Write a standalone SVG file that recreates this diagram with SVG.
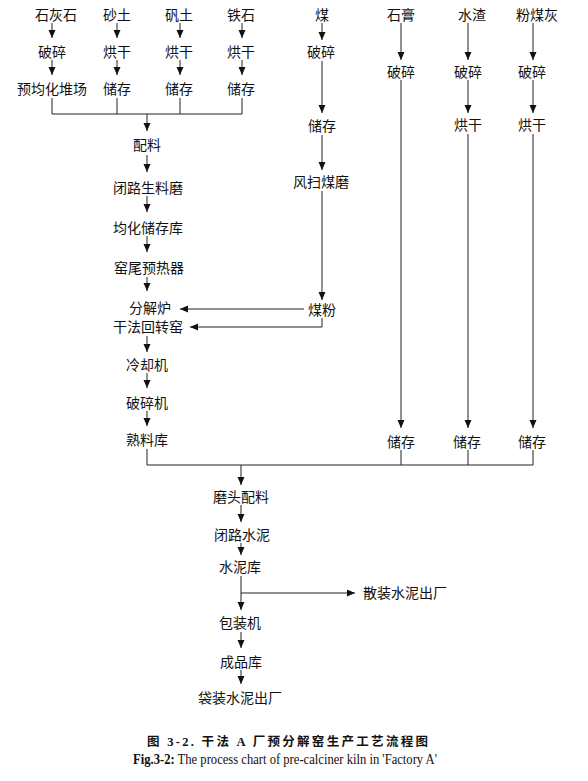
<svg xmlns="http://www.w3.org/2000/svg" width="588" height="781" viewBox="0 0 588 781">
<style>
.t{font-family:"Noto Sans CJK SC","Noto Sans",sans-serif;font-size:14px;fill:#111;text-anchor:middle}
.c line,.c path{stroke:#222;stroke-width:1;fill:none}
.cap{font-family:"Liberation Serif","Noto Sans CJK SC",serif;fill:#111}
</style>
<defs>
<marker id="a" markerUnits="userSpaceOnUse" markerWidth="8" markerHeight="8" refX="8" refY="3.5" orient="auto"><path d="M0,0 L8,3.5 L0,7 z" fill="#111"/></marker>
</defs>
<rect width="588" height="781" fill="#fff"/>
<g class="c" id="connectors">
<line x1="52" y1="23" x2="52" y2="38" marker-end="url(#a)"/>
<line x1="52" y1="60" x2="52" y2="75" marker-end="url(#a)"/>
<line x1="117" y1="23" x2="117" y2="38" marker-end="url(#a)"/>
<line x1="117" y1="60" x2="117" y2="75" marker-end="url(#a)"/>
<line x1="180" y1="23" x2="180" y2="38" marker-end="url(#a)"/>
<line x1="180" y1="60" x2="180" y2="75" marker-end="url(#a)"/>
<line x1="242" y1="23" x2="242" y2="38" marker-end="url(#a)"/>
<line x1="242" y1="60" x2="242" y2="75" marker-end="url(#a)"/>
<path d="M52,98 V114 H242 V98 M117,98 V114 M180,98 V114"/>
<line x1="147" y1="114" x2="147" y2="131" marker-end="url(#a)"/>
<line x1="147" y1="155" x2="147" y2="172" marker-end="url(#a)"/>
<line x1="147" y1="196" x2="147" y2="212" marker-end="url(#a)"/>
<line x1="147" y1="236" x2="147" y2="252" marker-end="url(#a)"/>
<line x1="147" y1="277" x2="147" y2="291" marker-end="url(#a)"/>
<line x1="147" y1="336" x2="147" y2="352" marker-end="url(#a)"/>
<line x1="147" y1="373" x2="147" y2="388" marker-end="url(#a)"/>
<line x1="147" y1="411" x2="147" y2="426" marker-end="url(#a)"/>
<line x1="322" y1="23" x2="322" y2="40" marker-end="url(#a)"/>
<line x1="322" y1="61" x2="322" y2="113" marker-end="url(#a)"/>
<line x1="322" y1="135" x2="322" y2="170" marker-end="url(#a)"/>
<line x1="322" y1="191" x2="322" y2="300" marker-end="url(#a)"/>
<line x1="304" y1="309" x2="180" y2="309" marker-end="url(#a)"/>
<path d="M322,318 V327 H190" marker-end="url(#a)"/>
<line x1="401" y1="23" x2="401" y2="60" marker-end="url(#a)"/>
<line x1="401" y1="80" x2="401" y2="428" marker-end="url(#a)"/>
<line x1="468" y1="23" x2="468" y2="60" marker-end="url(#a)"/>
<line x1="468" y1="80" x2="468" y2="113" marker-end="url(#a)"/>
<line x1="468" y1="134" x2="468" y2="428" marker-end="url(#a)"/>
<line x1="533" y1="23" x2="533" y2="60" marker-end="url(#a)"/>
<line x1="533" y1="80" x2="533" y2="113" marker-end="url(#a)"/>
<line x1="533" y1="134" x2="533" y2="428" marker-end="url(#a)"/>
<path d="M147,449 V465 H533 V450 M401,450 V465 M468,450 V465"/>
<line x1="241" y1="465" x2="241" y2="485" marker-end="url(#a)"/>
<line x1="241" y1="505" x2="241" y2="522" marker-end="url(#a)"/>
<line x1="241" y1="543" x2="241" y2="555" marker-end="url(#a)"/>
<line x1="241" y1="576" x2="241" y2="610" marker-end="url(#a)"/>
<line x1="241" y1="593" x2="355" y2="593" marker-end="url(#a)"/>
<line x1="241" y1="632" x2="241" y2="648" marker-end="url(#a)"/>
<line x1="241" y1="670" x2="241" y2="684" marker-end="url(#a)"/>
</g>
<g id="n-limestone"><text class="t" x="56" y="20">石灰石</text></g>
<g id="n-sand"><text class="t" x="117" y="20">砂土</text></g>
<g id="n-bauxite"><text class="t" x="179" y="20">矾土</text></g>
<g id="n-iron"><text class="t" x="241" y="20">铁石</text></g>
<g id="n-coal"><text class="t" x="322" y="20">煤</text></g>
<g id="n-gypsum"><text class="t" x="401" y="20">石膏</text></g>
<g id="n-slag"><text class="t" x="472" y="20">水渣</text></g>
<g id="n-flyash"><text class="t" x="537" y="20">粉煤灰</text></g>
<g id="n-lime-crush"><text class="t" x="52" y="57">破碎</text></g>
<g id="n-sand-dry"><text class="t" x="117" y="57">烘干</text></g>
<g id="n-baux-dry"><text class="t" x="179" y="57">烘干</text></g>
<g id="n-iron-dry"><text class="t" x="241" y="57">烘干</text></g>
<g id="n-coal-crush"><text class="t" x="321" y="57">破碎</text></g>
<g id="n-lime-yard"><text class="t" x="52" y="94">预均化堆场</text></g>
<g id="n-sand-store"><text class="t" x="117" y="94">储存</text></g>
<g id="n-baux-store"><text class="t" x="179" y="94">储存</text></g>
<g id="n-iron-store"><text class="t" x="241" y="94">储存</text></g>
<g id="n-gyp-crush"><text class="t" x="401" y="77">破碎</text></g>
<g id="n-slag-crush"><text class="t" x="468" y="77">破碎</text></g>
<g id="n-fly-crush"><text class="t" x="532" y="77">破碎</text></g>
<g id="n-coal-store"><text class="t" x="322" y="131">储存</text></g>
<g id="n-slag-dry"><text class="t" x="468" y="130">烘干</text></g>
<g id="n-fly-dry"><text class="t" x="532" y="130">烘干</text></g>
<g id="n-batch"><text class="t" x="147" y="150">配料</text></g>
<g id="n-rawmill"><text class="t" x="148" y="193">闭路生料磨</text></g>
<g id="n-coalmill"><text class="t" x="321" y="187">风扫煤磨</text></g>
<g id="n-homo"><text class="t" x="148" y="233">均化储存库</text></g>
<g id="n-preheater"><text class="t" x="149" y="273">窑尾预热器</text></g>
<g id="n-calciner"><text class="t" x="150" y="313">分解炉</text></g>
<g id="n-coalpowder"><text class="t" x="322" y="315">煤粉</text></g>
<g id="n-kiln"><text class="t" x="148" y="332">干法回转窑</text></g>
<g id="n-cooler"><text class="t" x="147" y="370">冷却机</text></g>
<g id="n-crusher"><text class="t" x="147" y="408">破碎机</text></g>
<g id="n-clinker"><text class="t" x="147" y="445">熟料库</text></g>
<g id="n-gyp-store"><text class="t" x="401" y="447">储存</text></g>
<g id="n-slag-store"><text class="t" x="467" y="447">储存</text></g>
<g id="n-fly-store"><text class="t" x="532" y="447">储存</text></g>
<g id="n-millbatch"><text class="t" x="241" y="502">磨头配料</text></g>
<g id="n-cementmill"><text class="t" x="242" y="540">闭路水泥</text></g>
<g id="n-silo"><text class="t" x="240" y="572">水泥库</text></g>
<g id="n-bulk"><text class="t" x="363" y="598" style="text-anchor:start">散装水泥出厂</text></g>
<g id="n-packer"><text class="t" x="240" y="628">包装机</text></g>
<g id="n-product"><text class="t" x="241" y="667">成品库</text></g>
<g id="n-bagged"><text class="t" x="240" y="703">袋装水泥出厂</text></g>
<text class="cap" x="147" y="746" font-size="12.5" font-weight="bold" textLength="281" lengthAdjust="spacing">图 3-2. 干法 A 厂预分解窑生产工艺流程图</text>
<text class="cap" x="133" y="764" font-size="14" textLength="304" lengthAdjust="spacingAndGlyphs"><tspan font-weight="bold">Fig.3-2:</tspan> The process chart of pre-calciner kiln in 'Factory A'</text>
</svg>
